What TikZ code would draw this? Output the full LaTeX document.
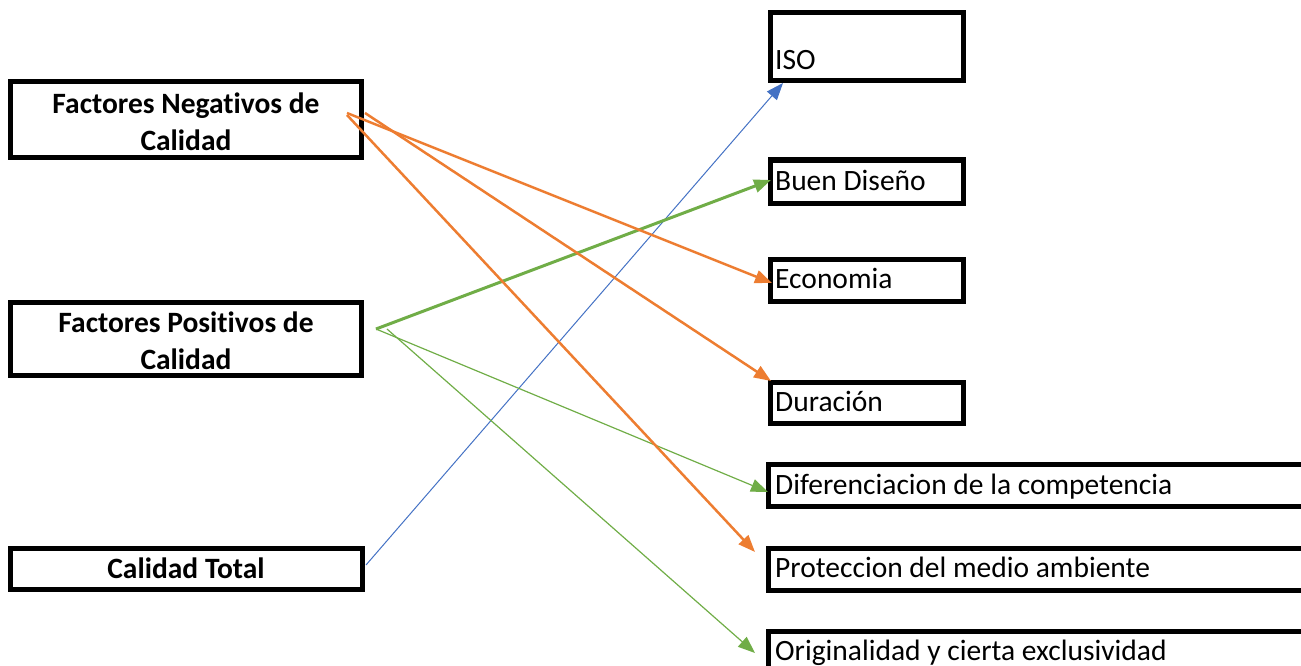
\documentclass[tikz,border=0pt]{standalone}
\usepackage{fontspec}
\setmainfont[Ligatures={CommonOff,ContextualOff,RareOff},Contextuals=AlternateOff]{Carlito}
\usetikzlibrary{arrows.meta}
\definecolor{orangeA}{HTML}{ED7D31}
\definecolor{greenA}{HTML}{70AD47}
\definecolor{blueA}{HTML}{4472C4}
\begin{document}
\begin{tikzpicture}[x=1pt,y=-1pt,
  box/.style={draw=black,line width=5pt,inner sep=0pt,outer sep=0pt,rectangle},
  lefttext/.style={font=\fontsize{29.5}{37}\selectfont\bfseries,align=center,inner sep=0pt},
  righttext/.style={font=\fontsize{29.5}{36}\selectfont,anchor=base west,inner sep=0pt},
  tip/.style={-{Triangle[length=17pt,width=13pt]}},
  orangeline/.style={tip,draw=orangeA,line width=2.5pt},
  greenthick/.style={tip,draw=greenA,line width=3pt},
  greenthin/.style={tip,draw=greenA,line width=1.2pt},
  blueline/.style={tip,draw=blueA,line width=1pt}]
\clip (0,0) rectangle (1301,666);
\useasboundingbox (0,0) rectangle (1301,666);
% left boxes
\node[box,minimum width=351pt,minimum height=76pt] (neg) at (186,120) {};
\node[box,minimum width=351pt,minimum height=73pt] (pos) at (186,338.5) {};
\node[box,minimum width=352pt,minimum height=41pt] (tot) at (186,568.5) {};
\node[lefttext] (negt) at (186,122) {Factores Negativos de\\Calidad};
\node[lefttext] (post) at (186,341) {Factores Positivos de\\Calidad};
\node[lefttext] (tott) at (186,568) {Calidad Total};
% right boxes
\node[box,minimum width=193pt,minimum height=68pt] (iso) at (866.5,47) {};
\node[box,minimum width=193pt,minimum height=43pt] (buen) at (866.5,181.5) {};
\node[box,minimum width=193pt,minimum height=42pt] (eco) at (866.5,280) {};
\node[box,minimum width=193pt,minimum height=41pt] (dur) at (866.5,402.5) {};
\node[box,minimum width=552pt,minimum height=42pt] (dif) at (1044,485) {};
\node[box,minimum width=552pt,minimum height=42pt] (pro) at (1044,569) {};
\node[box,minimum width=552pt,minimum height=59pt] (ori) at (1044,660.5) {};
\node[righttext] (isot) at (775,70) {ISO};
\node[righttext] (buent) at (775,190) {Buen Diseño};
\node[righttext] (ecot) at (775,288) {Economia};
\node[righttext] (durt) at (775,411) {Duración};
\node[righttext] (dift) at (775,494) {Diferenciacion de la competencia};
\node[righttext] (prot) at (775,577) {Proteccion del medio ambiente};
\node[righttext] (orit) at (775,660) {Originalidad y cierta exclusividad};
% connector end points
\coordinate (nA) at (347,113);
\coordinate (nB) at (365,113);
\coordinate (nC) at (347,115);
\coordinate (pA) at (376,329);
\coordinate (pB) at (387,329);
\coordinate (tA) at (366,565);
\coordinate (ecoIn) at (772,283);
\coordinate (durIn) at (771,381);
\coordinate (proIn) at (755,552);
\coordinate (buenIn) at (771,180);
\coordinate (difIn) at (768,492);
\coordinate (oriIn) at (755,653);
\coordinate (isoIn) at (783,83);
% connectors
\draw[blueline] (tA) -- (isoIn);
\draw[greenthick] (pA) -- (buenIn);
\draw[greenthin] (pA) -- (difIn);
\draw[greenthin] (pB) -- (oriIn);
\draw[orangeline] (nA) -- (ecoIn);
\draw[orangeline] (nB) -- (durIn);
\draw[orangeline] (nC) -- (proIn);
\end{tikzpicture}
\end{document}
